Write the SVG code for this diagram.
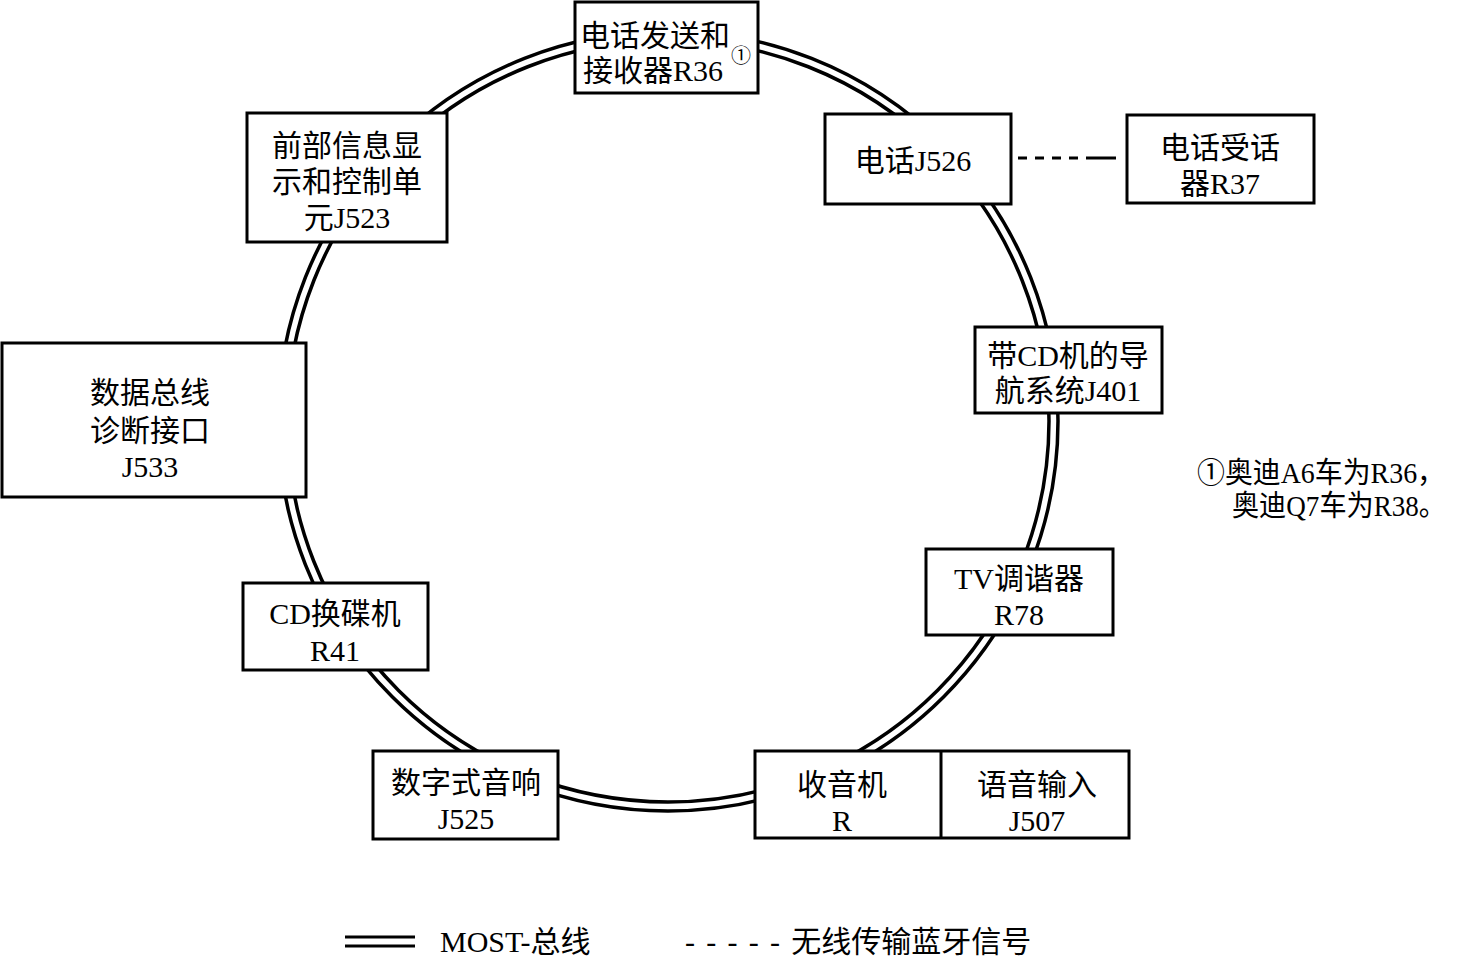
<svg xmlns="http://www.w3.org/2000/svg" width="1458" height="957" viewBox="0 0 1458 957">
<style>
.bx{fill:#fff;stroke:#000;stroke-width:3}
.t{font-family:"Liberation Serif","Noto Sans CJK SC",serif;font-size:30px;fill:#000;text-anchor:middle}
.s{text-anchor:start}
.ring{fill:none;stroke:#000;stroke-width:3.5}
</style>
<rect width="1458" height="957" fill="#fff"/>
<g id="connectors">
<circle class="ring" cx="668" cy="421" r="381"/>
<circle class="ring" cx="668" cy="421" r="390"/>
<line x1="1018" y1="158" x2="1116" y2="158" stroke="#000" stroke-width="3" stroke-dasharray="9 8 9 8 9 8 9 8 30"/>
</g>
<g id="n-r36">
<rect class="bx" x="575" y="2" width="183" height="91"/>
<text class="t s" x="580" y="46">电话发送和</text>
<text class="t s" x="583" y="81">接收器R36</text>
<text class="t s" x="731" y="63" style="font-size:20px">①</text>
</g>
<g id="n-j523">
<rect class="bx" x="247" y="113" width="200" height="129"/>
<text class="t" x="347" y="156">前部信息显</text>
<text class="t" x="347" y="192">示和控制单</text>
<text class="t" x="347" y="228">元J523</text>
</g>
<g id="n-j526">
<rect class="bx" x="825" y="114" width="186" height="90"/>
<text class="t" x="913" y="171">电话J526</text>
</g>
<g id="n-r37">
<rect class="bx" x="1127" y="115" width="187" height="88"/>
<text class="t" x="1220" y="158">电话受话</text>
<text class="t" x="1220" y="194">器R37</text>
</g>
<g id="n-j533">
<rect class="bx" x="2" y="343" width="304" height="154"/>
<text class="t" x="150" y="403">数据总线</text>
<text class="t" x="150" y="441">诊断接口</text>
<text class="t" x="150" y="477">J533</text>
</g>
<g id="n-j401">
<rect class="bx" x="975" y="327" width="187" height="86"/>
<text class="t" x="1068" y="366">带CD机的导</text>
<text class="t" x="1068" y="401">航系统J401</text>
</g>
<g id="note">
<text class="t s" x="1197" y="483" style="font-size:29px" textLength="248" lengthAdjust="spacingAndGlyphs">①奥迪A6车为R36，</text>
<text class="t s" x="1232" y="516" style="font-size:29px" textLength="214" lengthAdjust="spacingAndGlyphs">奥迪Q7车为R38。</text>
</g>
<g id="n-r41">
<rect class="bx" x="243" y="583" width="185" height="87"/>
<text class="t" x="335" y="624">CD换碟机</text>
<text class="t" x="335" y="661">R41</text>
</g>
<g id="n-r78">
<rect class="bx" x="926" y="549" width="187" height="86"/>
<text class="t" x="1019" y="589">TV调谐器</text>
<text class="t" x="1019" y="625">R78</text>
</g>
<g id="n-j525">
<rect class="bx" x="373" y="751" width="185" height="88"/>
<text class="t" x="466" y="793">数字式音响</text>
<text class="t" x="466" y="829">J525</text>
</g>
<g id="n-r-j507">
<rect class="bx" x="755" y="751" width="374" height="87"/>
<line x1="941" y1="751" x2="941" y2="838" stroke="#000" stroke-width="3"/>
<text class="t" x="842" y="795">收音机</text>
<text class="t" x="842" y="831">R</text>
<text class="t" x="1037" y="795">语音输入</text>
<text class="t" x="1037" y="831">J507</text>
</g>
<g id="legend">
<line x1="345" y1="937" x2="415" y2="937" stroke="#000" stroke-width="3"/>
<line x1="345" y1="946" x2="415" y2="946" stroke="#000" stroke-width="3"/>
<text class="t s" x="440" y="952">MOST-总线</text>
<text class="t s" x="685" y="952"><tspan textLength="95" lengthAdjust="spacing">-----</tspan>无线传输蓝牙信号</text>
</g>
</svg>
